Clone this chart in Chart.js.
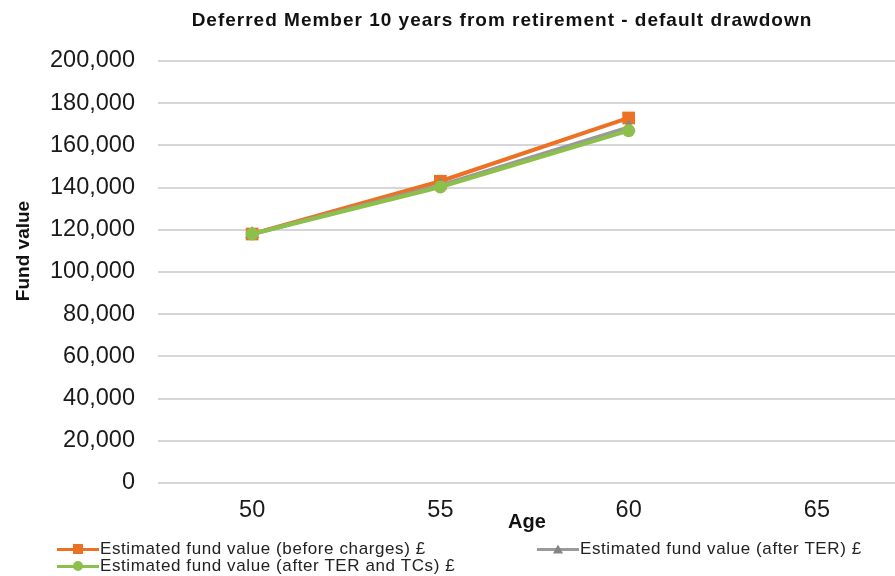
<!DOCTYPE html>
<html>
<head>
<meta charset="utf-8">
<script src="https://cdn.jsdelivr.net/npm/chart.js@4.4.1/dist/chart.umd.min.js"></script>
<style>
    html, body { margin: 0; padding: 0; background: #fff; }
    .wrap { position: relative; width: 895px; height: 576px; overflow: hidden; }
    #canvas { position: absolute; left: 0; top: 0; }
    .legend { position: absolute; left: 0; top: 0; width: 895px; height: 576px; pointer-events: none;
        font-family: "Liberation Sans", Arial, sans-serif; font-size: 17px; letter-spacing: 0.6px; color: #222; }
    .item { position: absolute; display: flex; align-items: center; white-space: nowrap; height: 18px; }
    .swatch { position: relative; width: 42px; height: 18px; margin-right: 1px; }
    .swatch .line { position: absolute; left: 0; right: 0; top: 7.5px; height: 3.5px; }
    .swatch .mark { position: absolute; left: 50%; top: 50%; transform: translate(-50%, -50%); }
</style>
</head>
<body>
<div class="wrap">
    <canvas id="canvas" width="920" height="576"></canvas>
    <div class="legend" id="legend"></div>
</div>
<script>
const ages = ['50', '55', '60', '65'];
const beforeCharges = [118000, 143000, 173000, null];
const afterTer = [118000, 141000, 168500, null];
const afterTerTcs = [118000, 140300, 167000, null];
const fundTicks = [0, 20000, 40000, 60000, 80000, 100000, 120000, 140000, 160000, 180000, 200000];

const chartTitle = 'Deferred Member 10 years from retirement - default drawdown';
const seriesNames = [
    'Estimated fund value (before charges) £',
    'Estimated fund value (after TER) £',
    'Estimated fund value (after TER and TCs) £'
];

const fontFamily = '"Liberation Sans", Arial, sans-serif';

// titles are drawn by hand, excel puts them slightly off the plot centre
const captions = {
    id: 'captions',
    afterDraw(chart) {
        const ctx = chart.ctx;
        ctx.save();
        ctx.fillStyle = '#111';
        ctx.textAlign = 'center';
        ctx.textBaseline = 'middle';

        ctx.font = 'bold 19px ' + fontFamily;
        ctx.letterSpacing = '1px';
        ctx.fillText(chartTitle, 502, 21);
        ctx.letterSpacing = '0px';

        ctx.font = 'bold 20px ' + fontFamily;
        ctx.fillText('Age', 527, 522);

        ctx.translate(24, 251);
        ctx.rotate(-Math.PI / 2);
        ctx.font = 'bold 19px ' + fontFamily;
        ctx.fillText('Fund value', 0, 0);
        ctx.restore();
    }
};

const ctx = document.getElementById('canvas').getContext('2d');
const myChart = new Chart(ctx, {
    type: 'line',
    data: {
        labels: ages,
        // later series sit on top, like the spreadsheet draws them
        datasets: [{
            label: seriesNames[0],
            data: beforeCharges,
            borderColor: '#EC7125',
            backgroundColor: '#EC7125',
            pointStyle: 'rect',
            pointRadius: 9,
            order: 2
        }, {
            label: seriesNames[1],
            data: afterTer,
            borderColor: '#9A9A9A',
            backgroundColor: '#858585',
            pointStyle: 'triangle',
            pointRadius: 8,
            order: 1
        }, {
            label: seriesNames[2],
            data: afterTerTcs,
            borderColor: '#8DBF4B',
            backgroundColor: '#8DBF4B',
            pointStyle: 'circle',
            pointRadius: 6.5,
            order: 0
        }]
    },
    options: {
        responsive: false,
        animation: false,
        spanGaps: false,
        elements: {
            line: { borderWidth: 4, tension: 0 },
            point: { borderWidth: 0, hoverRadius: 7 }
        },
        layout: {
            padding: { top: 61, right: 9, bottom: 53, left: 0 }
        },
        plugins: {
            legend: { display: false },
            title: { display: false },
            tooltip: { enabled: false }
        },
        scales: {
            x: {
                offset: true,
                grid: { display: false, drawTicks: false },
                border: { display: false },
                ticks: {
                    padding: 13,
                    color: '#1a1a1a',
                    font: { family: fontFamily, size: 23.5 }
                },
                afterFit: function (scale) { scale.height = 40; }
            },
            y: {
                min: fundTicks[0],
                max: fundTicks[fundTicks.length - 1],
                afterBuildTicks: function (scale) {
                    scale.ticks = fundTicks.map(function (v) { return { value: v }; });
                },
                grid: { color: '#d6d6d6', lineWidth: 2, drawTicks: false },
                border: { display: false },
                ticks: {
                    padding: 23,
                    color: '#1a1a1a',
                    font: { family: fontFamily, size: 23.5 },
                    callback: function (v) { return v.toLocaleString('en-GB'); }
                },
                afterFit: function (scale) { scale.width = 158; }
            }
        }
    },
    plugins: [captions]
});

// legend built from the datasets so colours and names stay in sync
const legendSpots = [[57, 540], [537, 540], [57, 557]];
const legend = document.getElementById('legend');
myChart.data.datasets.forEach(function (ds, i) {
    const item = document.createElement('div');
    item.className = 'item';
    item.style.left = legendSpots[i][0] + 'px';
    item.style.top = legendSpots[i][1] + 'px';

    const swatch = document.createElement('span');
    swatch.className = 'swatch';
    const line = document.createElement('span');
    line.className = 'line';
    line.style.background = ds.borderColor;
    const mark = document.createElement('span');
    mark.className = 'mark';
    if (ds.pointStyle === 'triangle') {
        mark.style.width = '0';
        mark.style.height = '0';
        mark.style.borderLeft = '5px solid transparent';
        mark.style.borderRight = '5px solid transparent';
        mark.style.borderBottom = '9px solid ' + ds.backgroundColor;
    } else {
        mark.style.width = '10px';
        mark.style.height = '10px';
        mark.style.background = ds.backgroundColor;
        if (ds.pointStyle === 'circle') mark.style.borderRadius = '50%';
    }
    swatch.appendChild(line);
    swatch.appendChild(mark);

    const text = document.createElement('span');
    text.textContent = ds.label;
    item.appendChild(swatch);
    item.appendChild(text);
    legend.appendChild(item);
});
</script>
</body>
</html>
